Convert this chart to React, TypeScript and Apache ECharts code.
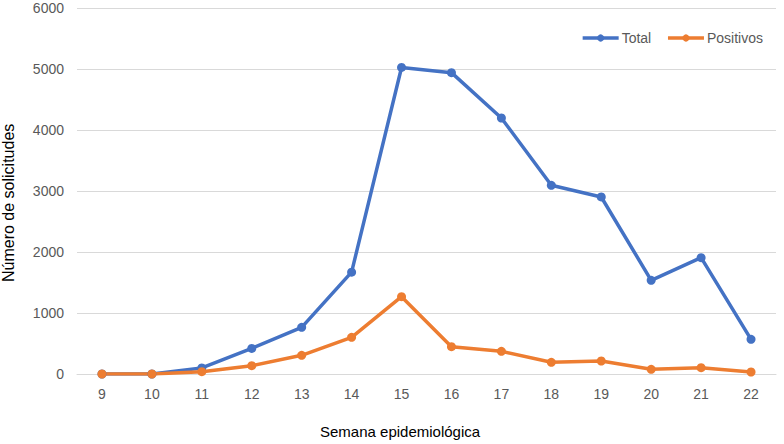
import React, { useEffect, useRef } from "react";
import * as echarts from "echarts";

const weeks = ["9", "10", "11", "12", "13", "14", "15", "16", "17", "18", "19", "20", "21", "22"];
const total = [0, 0, 100, 420, 765, 1670, 5025, 4940, 4197, 3093, 2902, 1536, 1907, 569];
const positivos = [0, 0, 38, 136, 306, 601, 1267, 448, 372, 192, 213, 77, 103, 33];
const yTicks = { min: 0, max: 6000, interval: 1000 };

const FONT = "'Liberation Sans', Arial, sans-serif";

export default function App() {
  const ref = useRef<HTMLDivElement>(null);
  useEffect(() => {
    if (!ref.current) return;
    const chart = echarts.init(ref.current, undefined, { renderer: "svg" });
    chart.setOption({
      animation: false,
      textStyle: { fontFamily: FONT },
      grid: { left: 77, right: 8, top: 8, bottom: 70, containLabel: false },
      legend: {
        right: 16,
        top: 26,
        itemWidth: 36,
        itemHeight: 9,
        itemGap: 15,
        lineStyle: { width: 3.5 },
        textStyle: { color: "#595959", fontSize: 14, fontFamily: FONT, padding: [0, 0, 0, -2] },
        data: ["Total", "Positivos"],
      },
      xAxis: {
        type: "category",
        data: weeks,
        boundaryGap: true,
        axisLine: { show: true, lineStyle: { color: "#d9d9d9", width: 1 } },
        axisTick: { show: false },
        axisLabel: { color: "#595959", fontSize: 14, margin: 13, fontFamily: FONT },
      },
      yAxis: {
        type: "value",
        min: yTicks.min,
        max: yTicks.max,
        interval: yTicks.interval,
        axisLine: { show: false },
        axisTick: { show: false },
        splitLine: { lineStyle: { color: "#d9d9d9", width: 1 } },
        axisLabel: {
          color: "#595959",
          fontSize: 14,
          margin: 13,
          fontFamily: FONT,
          formatter: (v: number) => String(v),
        },
      },
      graphic: [
        {
          type: "text",
          x: 320,
          y: 424,
          style: { text: "Semana epidemiológica", fill: "#000", font: `15px ${FONT}`, textVerticalAlign: "top" },
        },
        {
          type: "text",
          x: 0,
          y: 282,
          rotation: Math.PI / 2,
          style: { text: "Número de solicitudes", fill: "#000", font: `16px ${FONT}`, textVerticalAlign: "top" },
        },
      ],
      series: [
        {
          name: "Total",
          type: "line",
          data: total,
          symbol: "circle",
          symbolSize: 9,
          lineStyle: { color: "#4472C4", width: 3.5 },
          itemStyle: { color: "#4472C4" },
        },
        {
          name: "Positivos",
          type: "line",
          data: positivos,
          symbol: "circle",
          symbolSize: 9,
          lineStyle: { color: "#ED7D31", width: 3.5 },
          itemStyle: { color: "#ED7D31" },
        },
      ],
    });
    return () => chart.dispose();
  }, []);
  return <div ref={ref} style={{ width: 784, height: 444, position: "absolute", left: 0, top: 0 }} />;
}
